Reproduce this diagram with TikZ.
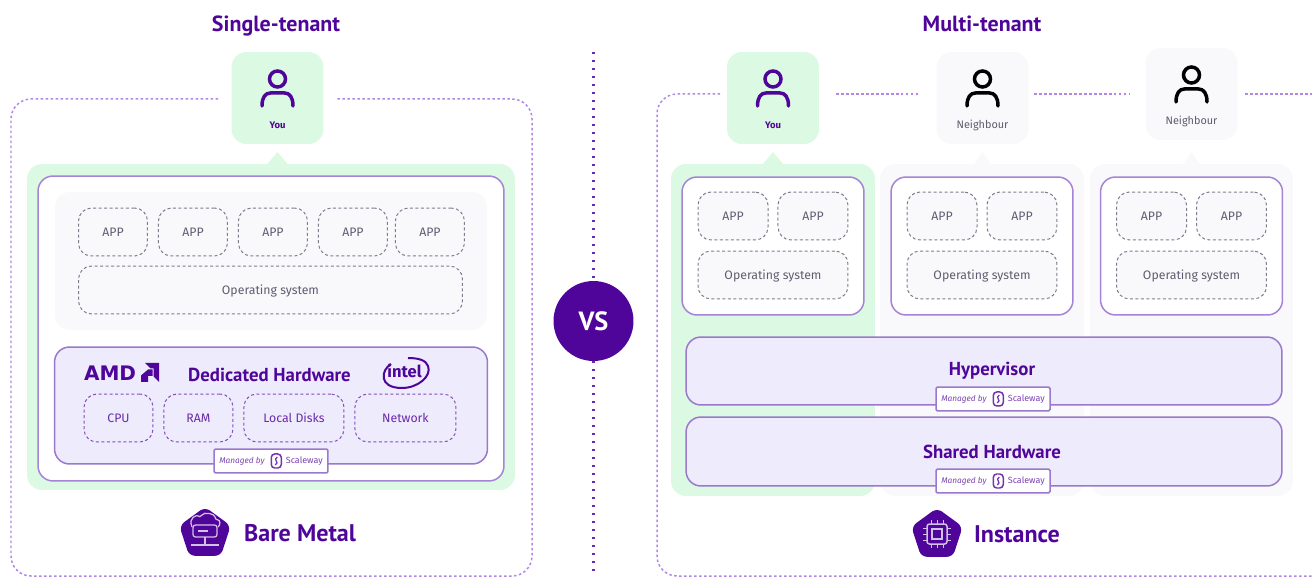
\documentclass[tikz,border=0pt]{standalone}
\usepackage{fontspec}
\setmainfont{Fira Sans}
\newfontfamily\headfont{PT Sans}
\newfontfamily\logofont{DejaVu Sans}
\usepackage{xcolor}
\definecolor{brand}{HTML}{4F0599}
\definecolor{edge}{HTML}{A583D6}
\definecolor{dots}{HTML}{B088E4}
\definecolor{mint}{HTML}{DCF9E3}
\definecolor{lavender}{HTML}{EEEBFC}
\definecolor{mist}{HTML}{F9F9FB}
\definecolor{slate}{HTML}{5F5D70}
\definecolor{hardline}{HTML}{9A78CC}
\usetikzlibrary{%
    shapes.geometric,
    positioning,
    calc
}

\tikzset{
    person/.pic={
        \draw [line width=0.07cm, line cap=round, pic actions] (0,-19) circle (8);
        \draw [line width=0.07cm, line cap=round, pic actions] (-15.5,8) .. controls (-15.5,-1) and (-12,-5) .. (-7,-5) -- (7,-5) .. controls (12,-5) and (15.5,-1) .. (15.5,8);
    },
    scalelogo/.pic={
        \draw [brand!80, line width=0.03cm, rounded corners=0.07cm] (-5,-7) rectangle (5,7);
        \draw [brand!80, line width=0.025cm] (1,-4) .. controls (-4,-1) and (4,1) .. (-1,4);
    }
}

\begin{document}
\begin{tikzpicture}[x=0.02cm, y=-0.02cm, inner sep=0pt, outer sep=0pt,
                tenant/.style={rectangle, rounded corners=0.3cm, minimum width=1.84cm, minimum height=1.84cm},
                panel/.style={rectangle, rounded corners=0.3cm},
                host/.style={rectangle, rounded corners=0.3cm, draw=edge, line width=0.03cm, fill=white},
                hardware/.style={rectangle, rounded corners=0.3cm, draw=hardline, line width=0.03cm, fill=lavender},
                softbox/.style={rectangle, rounded corners=0.26cm, draw=slate!80, dash pattern=on 0.06cm off 0.05cm, line width=0.02cm, fill=mist, minimum height=0.96cm, text=slate, text height=0.17cm, text depth=0cm, font=\fontsize{7}{8}\selectfont},
                hardbox/.style={softbox, draw=brand!70, fill=lavender, text=brand!85},
                heading/.style={text=brand, font=\headfont\bfseries\fontsize{10.7}{12}\selectfont},
                title/.style={text=brand, font=\headfont\bfseries\fontsize{12.5}{14}\selectfont},
                product/.style={text=brand, font=\headfont\bfseries\fontsize{13.7}{15}\selectfont},
                badge/.style={rectangle, rounded corners=0.03cm, draw=hardline, line width=0.03cm, fill=white, minimum width=2.28cm, minimum height=0.48cm, text=brand!75, font=\fontsize{4.7}{6}\selectfont},
                gem/.style={regular polygon, regular polygon sides=5, rounded corners=0.12cm, fill=brand, minimum size=1.08cm},
                frame/.style={draw=dots, line width=0.03cm, dash pattern=on 0.05cm off 0.05cm, rounded corners=0.4cm},
                link/.style={draw=dots, line width=0.05cm, dash pattern=on 0.05cm off 0.05cm},
                split/.style={draw=brand!85, line width=0.055cm, dash pattern=on 0.05cm off 0.11cm}
            ]
            \useasboundingbox (0,0) rectangle (1312,577);

            % left half
            \node (singleTitle) [title] at (276,26) {Single-tenant};
            \node (multiTitle) [title] at (982,24) {Multi-tenant};

            \coordinate (frameAa) at (218,99);
            \coordinate (frameAb) at (11,576);
            \coordinate (frameAc) at (532,576);
            \coordinate (frameAd) at (337,99);
            \draw [frame] (frameAa) -| (frameAb) -- (frameAc) |- (frameAd);

            \node (panelA) [panel, fill=mint, minimum width=9.76cm, minimum height=6.52cm] at (271,327) {};
            \node (youA) [tenant, fill=mint] at (277.5,98) {};
            \fill [mint] ($(youA.south |- panelA.north)+(-11,1)$) -- ++(11,-13) -- ++(11,13) -- cycle;
            \pic [draw=brand] at (youA) {person};
            \node (youAlabel) [text=brand, font=\bfseries\fontsize{5.4}{6}\selectfont] at (277.5,125) {You};

            \node (hostA) [host, minimum width=9.32cm, minimum height=6.1cm] at (271,328.5) {};
            \node (softA) [panel, fill=mist, minimum width=8.64cm, minimum height=2.76cm] at (271,261) {};

            \node (appAa) [softbox, minimum width=1.38cm] at (113,232) {APP};
            \node (appAb) [softbox, minimum width=1.38cm, right=0.22cm of appAa] {APP};
            \node (appAc) [softbox, minimum width=1.38cm, right=0.22cm of appAb] {APP};
            \node (appAd) [softbox, minimum width=1.38cm, right=0.22cm of appAc] {APP};
            \node (appAe) [softbox, minimum width=1.38cm, right=0.16cm of appAd] {APP};
            \node (osA) [softbox, minimum width=7.68cm] at (270.5,290) {Operating system};

            \node (dedicated) [hardware, minimum width=8.66cm, minimum height=2.34cm] at (271,405.5) {};
            \node (dedicatedLabel) [heading] at (269.5,374.5) {Dedicated Hardware};
            \node (amd) [text=brand, anchor=west, font=\logofont\bfseries\fontsize{11.4}{14}\selectfont] at (84,373) {AMD};
            \fill [brand] (145,363) -- (159,363) -- (159,382) -- (153.5,376.5) -- (153.5,368.5) -- (150.5,368.5) -- cycle;
            \fill [brand] (141,375.5) -- (148,369.5) -- (152.5,369.5) -- (152.5,376) -- (148,376) -- (148,382) -- (141,382) -- cycle;
            \node (intel) [text=brand, font=\bfseries\fontsize{9.4}{10}\selectfont] at (404.5,371) {intel};
            \draw [brand, line width=0.04cm] (391,364) .. controls (381,370) and (378,388) .. (402,388) .. controls (418,388) and (432,376) .. (428,366) .. controls (426,360) and (418,358) .. (408,358);

            \node (cpu) [hardbox, minimum width=1.38cm] at (118.5,418) {CPU};
            \node (ram) [hardbox, minimum width=1.38cm, right=0.22cm of cpu] {RAM};
            \node (disks) [hardbox, minimum width=2cm, right=0.22cm of ram] {Local Disks};
            \node (network) [hardbox, minimum width=2.02cm, right=0.22cm of disks] {Network};

            \node (badgeA) [badge] at (271,461) {\textit{Managed by}\hspace{0.42cm}{\fontsize{5.1}{6}\selectfont Scaleway}};
            \pic at ([xshift=3]badgeA.center) {scalelogo};

            \node (gemA) [gem] at (205,534) {};
            \draw [white!75!brand, line width=0.025cm, rounded corners=0.06cm] (192,527) .. controls (188,517) and (197,515) .. (200,518) .. controls (204,511) and (215,514) .. (215,520) .. controls (220,520) and (221,525) .. (218,527);
            \draw [white!75!brand, line width=0.025cm, rounded corners=0.05cm] (193,525) rectangle (217,537);
            \draw [white!75!brand, line width=0.03cm] (198,531) -- (208,531);
            \draw [white!75!brand, line width=0.025cm] (205,537) -- (205,545) (191,545) -- (219,545);
            \node (bareMetal) [product] at (300,533) {Bare Metal};

            % middle
            \node (versus) [circle, fill=brand, minimum size=1.6cm, text=white, font=\headfont\bfseries\fontsize{15}{17}\selectfont] at (593.5,321) {VS};
            \coordinate (splitTop) at (593.5,52);
            \coordinate (splitBottom) at (593.5,577);
            \draw [split] (splitTop) -- (versus);
            \draw [split] (versus) -- (splitBottom);

            % right half
            \coordinate (frameBa) at (720,94);
            \coordinate (frameBb) at (657,576);
            \coordinate (frameBc) at (1312,576);
            \draw [frame] (frameBa) -| (frameBb) -- (frameBc);

            \node (panelB) [panel, fill=mint, minimum width=4.08cm, minimum height=6.64cm] at (773,330) {};
            \node (panelC) [panel, fill=mist, minimum width=4.08cm, minimum height=6.64cm] at (982,330) {};
            \node (panelD) [panel, fill=mist, minimum width=4.06cm, minimum height=6.64cm] at (1191.5,330) {};

            \node (youB) [tenant, fill=mint] at (773,98) {};
            \node (neighbourA) [tenant, fill=mist] at (982.5,98) {};
            \node (neighbourB) [tenant, fill=mist] at (1191.5,94) {};

            \coordinate (linkAa) at (836,94);
            \coordinate (linkAb) at (920,94);
            \coordinate (linkBa) at (1034,94);
            \coordinate (linkBb) at (1130,94);
            \coordinate (linkCa) at (1245,94);
            \coordinate (linkCb) at (1312,94);
            \draw [link] (linkAa) -- (linkAb);
            \draw [link] (linkBa) -- (linkBb);
            \draw [link] (linkCa) -- (linkCb);

            \fill [mint] ($(youB.south |- panelB.north)+(-11,1)$) -- ++(11,-13) -- ++(11,13) -- cycle;
            \fill [mist] ($(neighbourA.south |- panelC.north)+(-9,1)$) -- ++(9,-13) -- ++(9,13) -- cycle;
            \fill [mist] ($(neighbourB.south |- panelD.north)+(-9,1)$) -- ++(9,-13) -- ++(9,13) -- cycle;

            \pic [draw=brand] at (youB) {person};
            \pic [draw=black] at (neighbourA) {person};
            \pic [draw=black] at (neighbourB) {person};
            \node (youBlabel) [text=brand, font=\bfseries\fontsize{5.4}{6}\selectfont] at (773,125) {You};
            \node (neighbourAlabel) [text=slate, font=\fontsize{6.2}{7}\selectfont] at (982.5,125) {Neighbour};
            \node (neighbourBlabel) [text=slate, font=\fontsize{6.2}{7}\selectfont] at (1191.5,121) {Neighbour};

            \foreach \name/\cx in {B/773, C/982, D/1191.5} {
                \node (host\name) [host, minimum width=3.64cm, minimum height=2.76cm] at (\cx,246) {};
                \node (app\name a) [softbox, minimum width=1.4cm] at (\cx-40,216) {APP};
                \node (app\name b) [softbox, minimum width=1.4cm, right=0.2cm of app\name a] {APP};
                \node (os\name) [softbox, minimum width=3cm] at (\cx,275) {Operating system};
            }

            \node (hypervisor) [hardware, minimum width=11.92cm, minimum height=1.36cm] at (984,371) {};
            \node (hypervisorLabel) [heading] at (992,371) {Hypervisor};
            \node (badgeB) [badge] at (993,399) {\textit{Managed by}\hspace{0.42cm}{\fontsize{5.1}{6}\selectfont Scaleway}};
            \pic at ([xshift=3]badgeB.center) {scalelogo};

            \node (shared) [hardware, minimum width=11.92cm, minimum height=1.38cm] at (984,451.5) {};
            \node (sharedLabel) [heading] at (992,452) {Shared Hardware};
            \node (badgeC) [badge] at (993,481) {\textit{Managed by}\hspace{0.42cm}{\fontsize{5.1}{6}\selectfont Scaleway}};
            \pic at ([xshift=3]badgeC.center) {scalelogo};

            \node (gemB) [gem] at (937,535) {};
            \draw [white!75!brand, line width=0.03cm, rounded corners=0.05cm] (927,524) rectangle (947,544);
            \draw [white!75!brand, line width=0.03cm] (932,529) rectangle (942,539);
            \foreach \d in {-6,0,6} {
                \draw [white!75!brand, line width=0.02cm] (937+\d,524) -- ++(0,-4) (937+\d,544) -- ++(0,4) (927,534+\d) -- ++(-4,0) (947,534+\d) -- ++(4,0);
            }
            \node (instance) [product] at (1017,534) {Instance};
\end{tikzpicture}
\end{document}
